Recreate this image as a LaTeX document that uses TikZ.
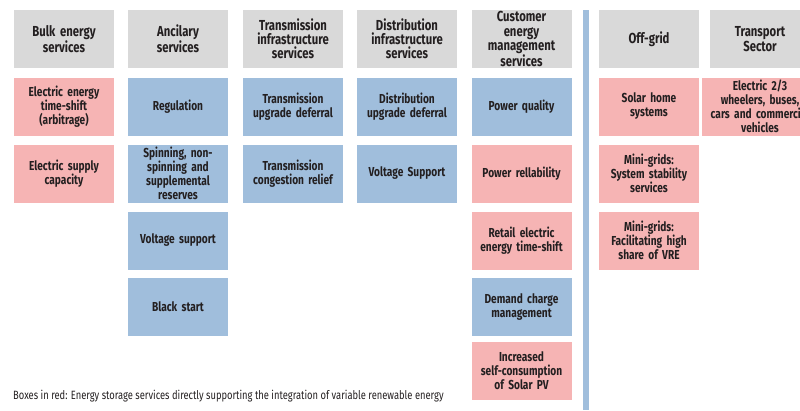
\documentclass[tikz,border=0pt]{standalone}
\usepackage{fontspec}
\setmainfont{Fira Sans}[FakeStretch=0.78]
\usepackage{tikz}

\definecolor{hdrgray}{RGB}{217,217,217}
\definecolor{boxred}{RGB}{246,180,180}
\definecolor{boxblue}{RGB}{160,190,220}
\definecolor{inkdark}{RGB}{35,31,32}

\begin{document}
\begin{tikzpicture}[x=1pt,y=1pt,yscale=-1,xscale=1,
	cell/.style={minimum width=100pt,minimum height=58pt,inner sep=0pt,text width=98pt,align=center,text=inkdark,font=\bfseries\fontsize{13}{14}\selectfont},
	hdr/.style={cell,fill=hdrgray,font=\bfseries\fontsize{14.5}{14.2}\selectfont},
	redbox/.style={cell,fill=boxred},
	bluebox/.style={cell,fill=boxblue}]
						%set diagram size 800 x 410
						\path[use as bounding box,clip] (0,0) rectangle (800,410);

						%Shape: Divider bar
						\fill[boxblue] (583,10) rectangle (589,410);

						% Header Nodes
						\node[hdr] (bulk) at (64,39) {Bulk energy\\services};
						\node[hdr] (ancil) at (178,39) {Ancilary\\services};
						\node[hdr] (trans) at (293,39) {Transmission\\infrastructure\\services};
						\node[hdr] (distr) at (407,39) {Distribution\\infrastructure\\services};
						\node[hdr] (cust) at (521.5,39) {Customer\\energy\\management\\services};
						\node[hdr] (offgrid) at (649,39) {Off-grid};
						\node[hdr] (transport) at (760,39) {Transport\\Sector};

						% Bulk energy services
						\node[redbox] (timeshift) at (64,106.5) {Electric energy\\time-shift\\(arbitrage)};
						\node[redbox] (capacity) at (64,173.5) {Electric supply\\capacity};

						% Ancillary services
						\node[bluebox] (regul) at (178,106.5) {Regulation};
						\node[bluebox] (reserves) at (178,173.5) {Spinning, non-\\spinning and\\supplemental\\reserves};
						\node[bluebox] (voltage) at (178,240.5) {Voltage support};
						\node[bluebox] (blackstart) at (178,307) {Black start};

						% Transmission infrastructure services
						\node[bluebox] (tdefer) at (293,106.5) {Transmission\\upgrade deferral};
						\node[bluebox] (tcongest) at (293,173.5) {Transmission\\congestion relief};

						% Distribution infrastructure services
						\node[bluebox] (ddefer) at (407,106.5) {Distribution\\upgrade deferral};
						\node[bluebox] (dvoltage) at (407,173.5) {Voltage Support};

						% Customer energy management services
						\node[bluebox] (quality) at (521.5,106.5) {Power quality};
						\node[redbox] (reliab) at (521.5,173.5) {Power rellability};
						\node[redbox] (retail) at (521.5,240.5) {Retail electric\\energy time-shift};
						\node[bluebox] (demand) at (521.5,307) {Demand charge\\management};
						\node[redbox] (selfcons) at (521.5,371) {Increased\\self-consumption\\of Solar PV};

						% Off-grid
						\node[redbox] (solarhome) at (649,106.5) {Solar home\\systems};
						\node[redbox] (stability) at (649,173.5) {Mini-grids:\\System stability\\services};
						\node[redbox] (vre) at (649,240.5) {Mini-grids:\\Facilitating high\\share of VRE};

						% Transport sector
						\node[redbox,text width=116pt] (evs) at (760,106.5) {Electric 2/3\\wheelers, buses,\\cars and commercial\\vehicles};

						% Text Node
						\node[anchor=west,inner sep=0pt,text=inkdark,font=\fontsize{12}{13}\selectfont\mdseries] (note) at (13,396) {Boxes in red: Energy storage services directly supporting the integration of variable renewable energy};
				\end{tikzpicture}
\end{document}
